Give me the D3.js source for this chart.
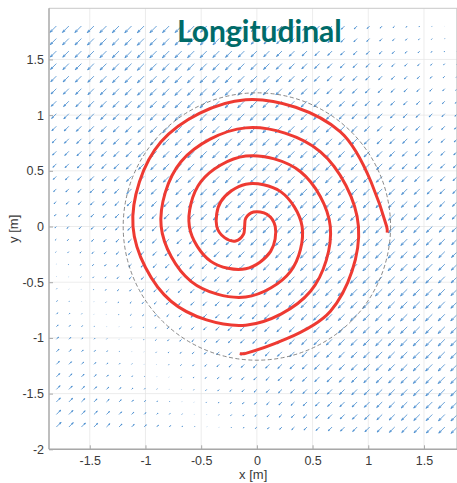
<!DOCTYPE html>
<html>
<head>
<meta charset="utf-8">
<script src="https://cdn.jsdelivr.net/npm/d3@7"></script>
<style>
  body { margin: 0; background: #fff; }
  svg { display: block; }
</style>
</head>
<body>
<svg id="chart" width="457" height="483"></svg>
<script>
// Axis ticks
const xTicks = [-1.5, -1, -0.5, 0, 0.5, 1, 1.5];
const yTicks = [-2, -1.5, -1, -0.5, 0, 0.5, 1, 1.5];

// Quiver sample grid (same positions on both axes), metres
const gridPts = [-1.8, -1.6875, -1.575, -1.4625, -1.35, -1.2375, -1.125, -1.0125, -0.9, -0.7875,
  -0.675, -0.5625, -0.45, -0.3375, -0.225, -0.1125, 0, 0.1125, 0.225, 0.3375, 0.45, 0.5625,
  0.675, 0.7875, 0.9, 1.0125, 1.125, 1.2375, 1.35, 1.4625, 1.575, 1.6875, 1.8];

// Relative displacement along each grid diagonal (index = col + row); + points south-west
const diagAmp = [
  -0.70, -0.65, -0.60, -0.55, -0.50, -0.45, -0.39, -0.33, -0.27, -0.21,
  -0.15, -0.09, -0.03, 0.03, 0.10, 0.16, 0.22, 0.28, 0.34, 0.40,
  0.45, 0.51, 0.56, 0.61, 0.66, 0.70, 0.75, 0.79, 0.82, 0.86,
  0.89, 0.91, 0.94, 0.96, 0.97, 0.99, 0.99, 1.00, 1.00, 1.00,
  0.99, 0.98, 0.97, 0.95, 0.93, 0.90, 0.87, 0.84, 0.81, 0.77,
  0.73, 0.68, 0.64, 0.59, 0.54, 0.48, 0.43, 0.37, 0.31, 0.25,
  0.19, 0.13, 0.07, 0.01, -0.05
];
const fieldDirDeg = 225;   // displacement direction for positive amplitude
const arrowMax = 0.085;    // longest drawn arrow, metres

// Double spiral path, from one outer end through the centre to the other
const spiralX = [-0.154, -0.1, 0.6603, 0.912, 0.5709, -0.1, -0.6814, -0.859, -0.592, -0.1,
  0.3025, 0.406, 0.2131, -0.1, -0.3236, -0.36, -0.29, -0.19, -0.12, -0.11,
  -0.10, -0.03, 0.09, 0.165, 0.1236, -0.1, -0.4131, -0.606, -0.5025, -0.1,
  0.392, 0.659, 0.4814, -0.1, -0.7709, -1.112, -0.8603, -0.1, 0.7498, 1.165, 1.170];
const spiralY = [-1.141, -1.1385, -0.7603, 0, 0.6709, 0.8855, 0.5814, 0, -0.492, -0.6325,
  -0.4025, 0, 0.3131, 0.3795, 0.2236, 0, -0.10, -0.13, -0.07, 0.0,
  0.075, 0.13, 0.11, 0, -0.2236, -0.3795, -0.3131, 0, 0.4025, 0.6325,
  0.492, 0, -0.5814, -0.8855, -0.6709, 0, 0.7603, 1.1385, 0.8498, 0, -0.055];

// Boundary circle
const circleCenter = [0, 0];
const circleRadius = 1.2;

const titleText = "Longitudinal";
const xLabel = "x [m]";
const yLabel = "y [m]";

const svg = d3.select("#chart");
const pL = 49, pR = 457.4, pT = 8.3, pB = 449.3;
const x = d3.scaleLinear().domain([-1.866, 1.8]).range([pL, pR]);
const y = d3.scaleLinear().domain([-2, 1.959]).range([pB, pT]);

svg.append("defs").append("clipPath").attr("id", "plotClip")
  .append("rect").attr("x", pL).attr("y", pT)
  .attr("width", pR - pL).attr("height", pB - pT);

// Grid
const grid = svg.append("g").attr("stroke", "#e4e4e4").attr("stroke-width", 0.7);
grid.selectAll("line.gx").data(xTicks).join("line").attr("class", "gx")
  .attr("x1", d => x(d)).attr("x2", d => x(d)).attr("y1", pT).attr("y2", pB);
grid.selectAll("line.gy").data(yTicks).join("line").attr("class", "gy")
  .attr("y1", d => y(d)).attr("y2", d => y(d)).attr("x1", pL).attr("x2", pR);

const plot = svg.append("g").attr("clip-path", "url(#plotClip)");

// Quiver
const arrows = [];
gridPts.forEach((gx, i) => {
  gridPts.forEach((gy, j) => {
    arrows.push({ gx, gy, a: diagAmp[i + j] });
  });
});
const th = fieldDirDeg * Math.PI / 180;
const alpha = 0.33, beta = 0.33;
function arrowPath(d) {
  const L = d.a * arrowMax;
  const x0 = x(d.gx), y0 = y(d.gy);
  const x1 = x(d.gx + L * Math.cos(th)), y1 = y(d.gy + L * Math.sin(th));
  const u = x1 - x0, v = y1 - y0;
  const hx1 = x1 - alpha * (u + beta * v), hy1 = y1 - alpha * (v - beta * u);
  const hx2 = x1 - alpha * (u - beta * v), hy2 = y1 - alpha * (v + beta * u);
  return `M${x0},${y0}L${x1},${y1}M${hx1},${hy1}L${x1},${y1}L${hx2},${hy2}`;
}
plot.append("g")
  .attr("fill", "none").attr("stroke", "#468cce").attr("stroke-width", 0.8)
  .selectAll("path").data(arrows).join("path").attr("d", arrowPath);

// Dashed circle
plot.append("circle")
  .attr("cx", x(circleCenter[0])).attr("cy", y(circleCenter[1]))
  .attr("r", x(circleRadius) - x(0))
  .attr("fill", "none").attr("stroke", "#6a6a6a").attr("stroke-width", 0.8)
  .attr("stroke-dasharray", "4,2.5");

// Spiral
const spiral = spiralX.map((v, i) => [v, spiralY[i]]);
plot.append("path").datum(spiral)
  .attr("fill", "none").attr("stroke", "#ee3a32").attr("stroke-width", 3)
  .attr("stroke-linecap", "butt").attr("stroke-linejoin", "round")
  .attr("d", d3.line().x(d => x(d[0])).y(d => y(d[1])).curve(d3.curveCatmullRom.alpha(0.5)));

// Box
svg.append("line").attr("x1", pL).attr("x2", pR).attr("y1", pT).attr("y2", pT)
  .attr("stroke", "#c8c8c8").attr("stroke-width", 1);
svg.append("line").attr("x1", pR - 0.6).attr("x2", pR - 0.6).attr("y1", pT).attr("y2", pB)
  .attr("stroke", "#c8c8c8").attr("stroke-width", 1);

// Axes
const fmt = d => String(d);
const xAxis = svg.append("g").attr("transform", `translate(0,${pB})`)
  .call(d3.axisBottom(x).tickValues(xTicks).tickFormat(fmt).tickSizeInner(-4).tickSizeOuter(0).tickPadding(7));
const yAxis = svg.append("g").attr("transform", `translate(${pL},0)`)
  .call(d3.axisLeft(y).tickValues(yTicks).tickFormat(fmt).tickSizeInner(-4).tickSizeOuter(0).tickPadding(5));
[xAxis, yAxis].forEach(g => {
  g.select(".domain").attr("stroke", "#a8a8a8").attr("stroke-width", 1.5);
  g.selectAll(".tick line").attr("stroke", "#a8a8a8");
  g.selectAll(".tick text").attr("fill", "#3a3a3a")
    .style("font-family", "'Liberation Sans', Arial, sans-serif").style("font-size", "12.5px");
});
xAxis.select(".domain").attr("d", `M${pL},0H${pR}`);
yAxis.select(".domain").attr("d", `M0,${pB}V${pT}`);

// Axis labels
svg.append("text").attr("x", (pL + pR) / 2).attr("y", 479)
  .attr("text-anchor", "middle").attr("fill", "#3a3a3a")
  .style("font-family", "'Liberation Sans', Arial, sans-serif").style("font-size", "13px")
  .text(xLabel);
svg.append("text").attr("transform", `translate(18,${(pT + pB) / 2}) rotate(-90)`)
  .attr("text-anchor", "middle").attr("fill", "#3a3a3a")
  .style("font-family", "'Liberation Sans', Arial, sans-serif").style("font-size", "13px")
  .text(yLabel);

// Title
svg.append("text").attr("x", 177).attr("y", 41.7)
  .attr("fill", "#006b69")
  .style("font-family", "Lato, 'Open Sans', sans-serif").style("font-weight", "700").style("font-size", "30px")
  .text(titleText);
</script>
</body>
</html>
